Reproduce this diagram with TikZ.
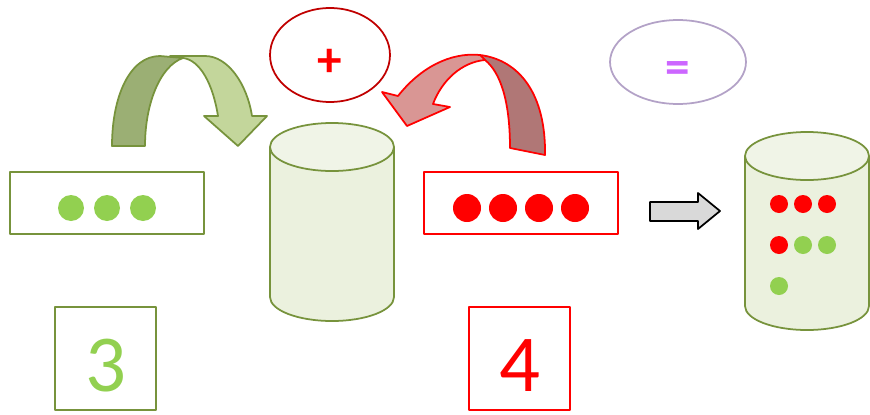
\documentclass[tikz,border=0pt]{standalone}
\usepackage{fontspec}
\setmainfont{Carlito}
\usepackage{tikz}
\usetikzlibrary{shapes.geometric}

\definecolor{leafline}{HTML}{77933C}
\definecolor{leafdark}{HTML}{9BAF74}
\definecolor{leaflight}{HTML}{C3D69B}
\definecolor{dotgreen}{HTML}{92D050}
\definecolor{cylbody}{HTML}{EBF1DE}
\definecolor{cyltop}{HTML}{F0F4E7}
\definecolor{redlight}{HTML}{D99694}
\definecolor{reddark}{HTML}{B07776}
\definecolor{plusline}{HTML}{C00000}
\definecolor{eqline}{HTML}{B3A2C7}
\definecolor{eqtext}{HTML}{CC66FF}
\definecolor{pushgray}{HTML}{D9D9D9}

\begin{document}
\begin{tikzpicture}[x=0.02cm, y=0.02cm, line join=round]
\tikzstyle{tray} = [draw, rectangle, line width=1pt, minimum width=3.88cm, minimum height=1.24cm, inner sep=0]
\tikzstyle{numbox} = [draw, rectangle, line width=1pt, minimum width=2.02cm, minimum height=2.06cm, inner sep=0, text height=1.34cm, text depth=0pt, font=\fontsize{46}{50}\selectfont]
\tikzstyle{op} = [draw, ellipse, line width=1pt, inner sep=0, text height=25pt, text depth=0pt, font=\fontsize{28}{30}\selectfont\bfseries]
\tikzstyle{band} = [line width=1pt]

% a drum: centre x, top y, bottom y
\def\drum#1#2#3{
\fill[cylbody] (#1-62,#2) -- (#1-62,#3) arc[start angle=180, end angle=360, x radius=62, y radius=24] -- (#1+62,#2) -- cycle;
\draw[leafline, line width=1pt] (#1-62,#2) -- (#1-62,#3) arc[start angle=180, end angle=360, x radius=62, y radius=24] -- (#1+62,#2);
\draw[leafline, line width=1pt, fill=cyltop] (#1,#2) ellipse[x radius=62, y radius=24];
}

\useasboundingbox (0,0) rectangle (870,414);

    % boxes and signs
    \node [tray, draw=leafline] (greens) at (107,211) {};
    \node [numbox, draw=leafline, text=dotgreen] (three) at (105.5,55.5) {3};
    \node [tray, draw=red] (reds) at (521,211) {};
    \node [numbox, draw=red, text=red] (four) at (519.5,55.5) {4};
    \node [op, draw=plusline, text=red, minimum width=2.4cm, minimum height=1.88cm] (plus) at (330,359) {+};
    \node [op, draw=eqline, text=eqtext, minimum width=2.72cm, minimum height=1.68cm] (equals) at (678,352) {=};

    \foreach \x in {71,107,143} \fill[dotgreen] (\x,206) circle[radius=13];
    \foreach \x in {467,503,539,575} \fill[red] (\x,206) circle[radius=14];

    % the two drums
    \drum{332}{267}{117}
    \drum{807}{258}{108}
    \foreach \x in {779,803,827} \fill[red] (\x,210) circle[radius=9];
    \fill[red] (779,169) circle[radius=9];
    \foreach \x in {803,827} \fill[dotgreen] (\x,169) circle[radius=9];
    \fill[dotgreen] (779,128) circle[radius=9];

    % green bent arrow
    \filldraw[band, draw=leafline, fill=leaflight] (170,358) -- (205,358) .. controls (228,358) and (247,330) .. (252,298) -- (267,298) -- (238,268) -- (204,298) -- (218,298) .. controls (213,330) and (200,354) .. (183,356) -- cycle;
    \filldraw[band, draw=leafline, fill=leafdark] (112,268) .. controls (112,318) and (130,358) .. (160,358) -- (183,356) .. controls (160,348) and (145,310) .. (145,268) -- cycle;

    % red bent arrow
    \filldraw[band, draw=red, fill=reddark] (480,359) .. controls (520,354) and (546,319) .. (545,259) -- (510,266) .. controls (510,314) and (500,342) .. (485,354) -- cycle;
    \filldraw[band, draw=red, fill=redlight] (382,322) -- (398,318) .. controls (420,346) and (450,362) .. (480,359) -- (485,354) .. controls (462,352) and (442,334) .. (433,310) -- (450,307) -- (407,288) -- cycle;

    % grey arrow
    \filldraw[band, draw=black, fill=pushgray] (650,212) -- (698,212) -- (698,221) -- (720,203) -- (698,185) -- (698,193) -- (650,193) -- cycle;

\end{tikzpicture}
\end{document}
